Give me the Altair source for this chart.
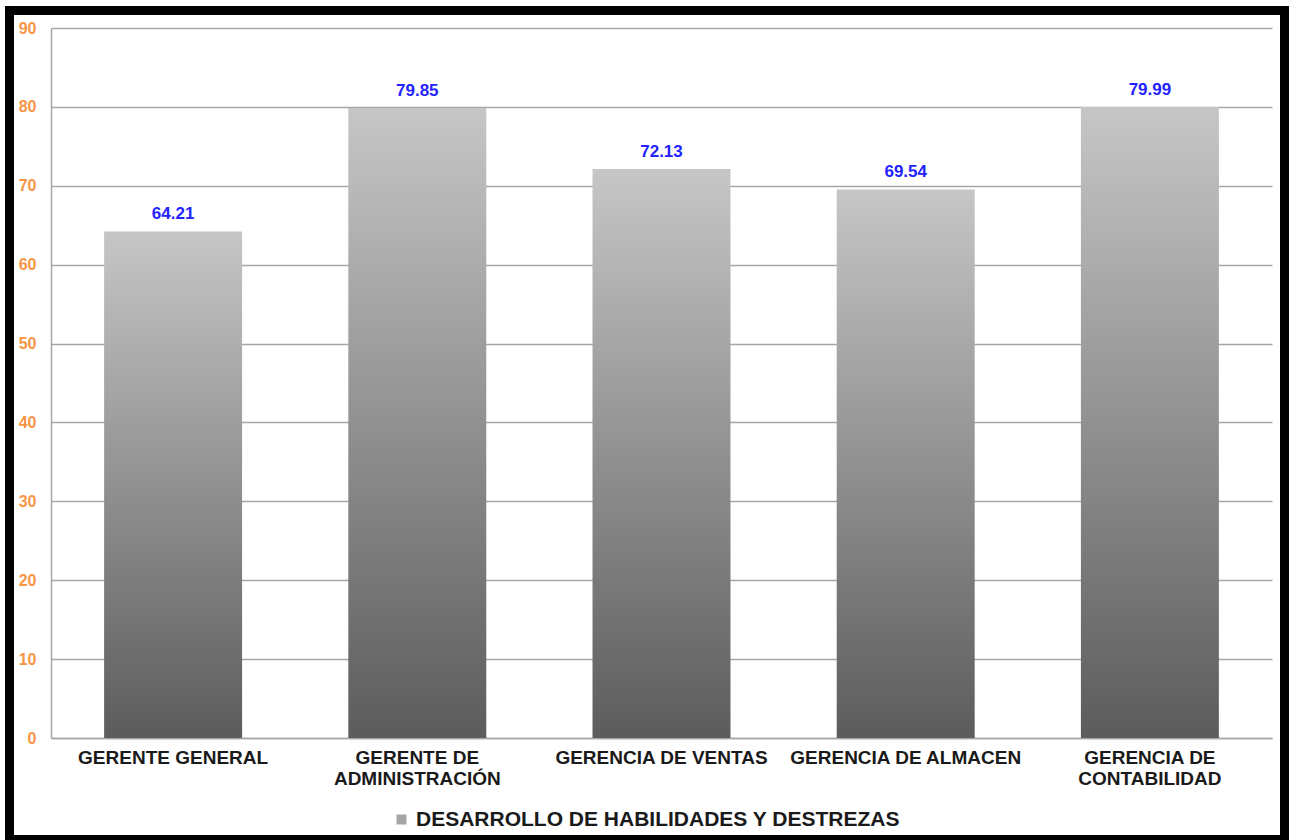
import altair as alt
import pandas as pd

categories = ["GERENTE GENERAL", "GERENTE DE\nADMINISTRACIÓN", "GERENCIA DE VENTAS",
              "GERENCIA DE ALMACEN", "GERENCIA DE\nCONTABILIDAD"]
values = [64.21, 79.85, 72.13, 69.54, 79.99]
series = "DESARROLLO DE HABILIDADES Y DESTREZAS"
y_ticks = [0, 10, 20, 30, 40, 50, 60, 70, 80, 90]

df = pd.DataFrame({"cat": categories, "val": values, "serie": [series] * len(categories)})

FONT = "Liberation Sans"
GRID = "#a6a6a6"

x = alt.X("cat:N", sort=categories,
          scale=alt.Scale(paddingInner=0.435, paddingOuter=0.2175),
          axis=alt.Axis(title=None, labelAngle=0, labelExpr="split(datum.value, '\\n')",
                        labelFont=FONT, labelFontSize=19, labelFontWeight="bold",
                        labelColor="#1a1a1a", labelPadding=10, ticks=False,
                        domainColor=GRID, domainWidth=1.5, labelLineHeight=21,
                        labelLimit=400, grid=False, labelBaseline="top"))
y = alt.Y("val:Q", scale=alt.Scale(domain=[0, 90], nice=False),
          axis=alt.Axis(title=None, values=y_ticks, labelColor="#f79646", labelFont=FONT,
                        labelFontSize=16, labelFontWeight="bold", labelPadding=15,
                        ticks=False, gridColor=GRID, gridWidth=1.5, domainColor=GRID,
                        domainWidth=1.5))

base = alt.Chart(df)

bars = base.mark_bar(color=alt.Gradient(
    gradient="linear",
    stops=[alt.GradientStop(color="#c6c6c6", offset=0),
           alt.GradientStop(color="#5c5c5c", offset=1)],
    x1=0, x2=0, y1=0, y2=1)).encode(x=x, y=y)

labels = base.mark_text(dy=-8, baseline="bottom", color="#2323ff", font=FONT,
                        fontSize=17, fontWeight="bold").encode(
    x=x, y=y, text=alt.Text("val:Q", format=".2f"))

legend_layer = base.mark_point(opacity=0, filled=True).encode(
    x=x, y=y,
    color=alt.Color("serie:N", scale=alt.Scale(range=["#a6a6a6"]),
                    legend=alt.Legend(title=None, orient="none", legendX=340, legendY=781,
                                      padding=0, symbolType="square", symbolSize=100,
                                      symbolOpacity=1, symbolStrokeWidth=0,
                                      labelFont=FONT, labelFontSize=21,
                                      labelFontWeight="bold", labelColor="#1a1a1a",
                                      labelLimit=700, labelOffset=4)))

frame = alt.Chart(pd.DataFrame({"k": [0]})).mark_rect(
    fillOpacity=0, stroke="black", strokeWidth=9, clip=False).encode(
    x=alt.value(-41.5), x2=alt.value(1233.5), y=alt.value(-17.5), y2=alt.value(811.5))

chart = alt.layer(bars, labels, legend_layer, frame).properties(
    width=1221, height=710,
    autosize=alt.AutoSizeParams(type="none"),
    padding={"left": 51, "top": 28, "right": 22, "bottom": 102},
    background="white",
).configure_view(strokeWidth=0)

chart.save("out.html", embed_options={"renderer": "svg", "actions": False})
